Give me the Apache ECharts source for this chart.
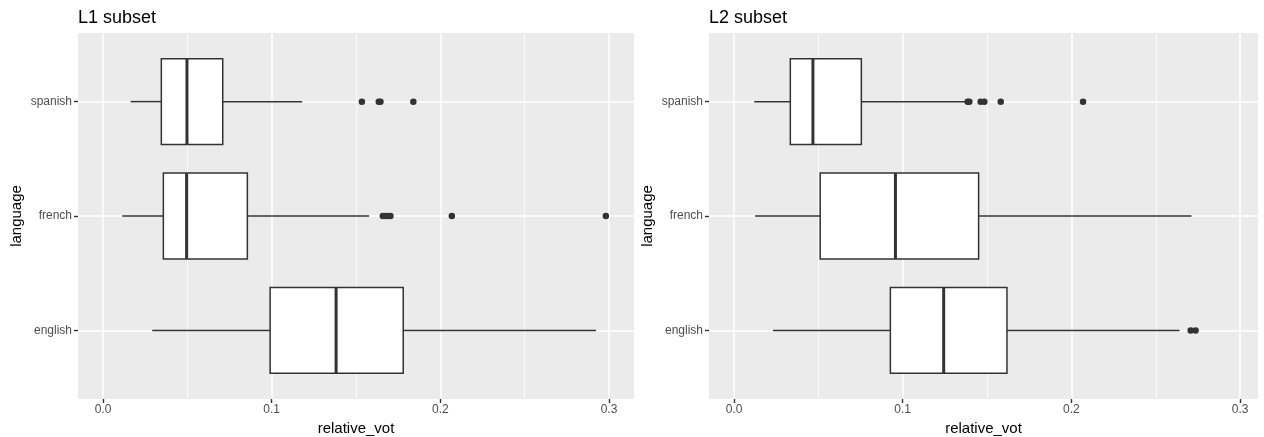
<!DOCTYPE html>
<html><head><meta charset="utf-8">
<script src="https://cdn.jsdelivr.net/npm/echarts@6/dist/echarts.min.js"></script>
<style>html,body{margin:0;padding:0;background:#fff}#c{width:1264px;height:437px}</style>
</head><body><div id="c"></div>
<script>
// ---- data ----
const languages = ['english', 'french', 'spanish'];
const xTicks = [0, 0.1, 0.2, 0.3];
const xMinorTicks = [0.05, 0.15, 0.25];
const yTicks = [1, 2, 3];
// five-number stats per language: [lower whisker, Q1, median, Q3, upper whisker]
const l1English = [0.0292, 0.0991, 0.1382, 0.1780, 0.2923];
const l1French  = [0.0114, 0.0358, 0.0496, 0.0856, 0.1578];
const l1Spanish = [0.0164, 0.0346, 0.0498, 0.0710, 0.1181];
const l2English = [0.0231, 0.0927, 0.1243, 0.1618, 0.2641];
const l2French  = [0.0125, 0.0511, 0.0957, 0.1450, 0.2712];
const l2Spanish = [0.0120, 0.0334, 0.0468, 0.0755, 0.1370];
// outliers: [value, language]
const l1Outliers = [
  [0.1659, 'french'], [0.1675, 'french'], [0.1690, 'french'], [0.1704, 'french'],
  [0.2068, 'french'], [0.2981, 'french'],
  [0.1535, 'spanish'], [0.1635, 'spanish'], [0.1645, 'spanish'], [0.1840, 'spanish']
];
const l2Outliers = [
  [0.2707, 'english'], [0.2736, 'english'],
  [0.1385, 'spanish'], [0.1395, 'spanish'], [0.1462, 'spanish'], [0.1484, 'spanish'],
  [0.1581, 'spanish'], [0.2069, 'spanish']
];

// ---- chart ----
const FONT = 'Liberation Sans, Arial, Helvetica, sans-serif';
const INK = '#333333';
const chart = echarts.init(document.getElementById('c'), null, {renderer: 'canvas'});

function boxRender(params, api) {
  const y = api.value(0);
  const lo = api.coord([api.value(1), y]);
  const q1 = api.coord([api.value(2), y]);
  const md = api.coord([api.value(3), y]);
  const q3 = api.coord([api.value(4), y]);
  const hi = api.coord([api.value(5), y]);
  const h = api.size([0, 0.75])[1];
  return {type: 'group', children: [
    {type: 'line', shape: {x1: lo[0], y1: lo[1], x2: q1[0], y2: q1[1]}, style: {stroke: INK, lineWidth: 1.5}},
    {type: 'line', shape: {x1: q3[0], y1: q3[1], x2: hi[0], y2: hi[1]}, style: {stroke: INK, lineWidth: 1.5}},
    {type: 'rect', shape: {x: q1[0], y: q1[1] - h / 2, width: q3[0] - q1[0], height: h}, style: {fill: '#ffffff', stroke: INK, lineWidth: 1.5}},
    {type: 'line', shape: {x1: md[0], y1: md[1] - h / 2, x2: md[0], y2: md[1] + h / 2}, style: {stroke: INK, lineWidth: 3}}
  ]};
}

function xMajor(gi, min, max) {
  return {
    gridIndex: gi, type: 'value', min: min, max: max, position: 'bottom',
    axisLine: {show: false, onZero: false},
    axisTick: {show: true, customValues: xTicks, length: 4, lineStyle: {color: INK, width: 1.4}},
    axisLabel: {customValues: xTicks, formatter: v => v.toFixed(1), color: '#4D4D4D', fontSize: 12, margin: 5, fontFamily: FONT},
    splitLine: {show: true, lineStyle: {color: '#ffffff', width: 1.5}},
    name: 'relative_vot', nameLocation: 'middle', nameGap: 21,
    nameTextStyle: {color: '#000', fontSize: 15, fontFamily: FONT}
  };
}
function xMinor(gi, min, max) {
  return {
    gridIndex: gi, type: 'value', min: min, max: max, position: 'bottom',
    axisLine: {show: false, onZero: false},
    axisTick: {show: false, customValues: xMinorTicks},
    axisLabel: {show: false, customValues: xMinorTicks},
    splitLine: {show: true, lineStyle: {color: '#ffffff', width: 0.75}}
  };
}
function yAx(gi) {
  return {
    gridIndex: gi, type: 'value', min: 0.4, max: 3.6, position: 'left',
    axisLine: {show: false, onZero: false},
    axisTick: {show: true, customValues: yTicks, length: 4, lineStyle: {color: INK, width: 1.4}},
    axisLabel: {customValues: yTicks, formatter: v => languages[Math.round(v) - 1], color: '#4D4D4D', fontSize: 12, margin: 6, fontFamily: FONT},
    splitLine: {show: true, lineStyle: {color: '#ffffff', width: 1.5}},
    name: 'language', nameLocation: 'middle', nameRotate: 90, nameGap: 54,
    nameTextStyle: {color: '#000', fontSize: 15, fontFamily: FONT}
  };
}
const langIndex = l => languages.indexOf(l) + 1;
const l1Stats = [l1English, l1French, l1Spanish];
const l2Stats = [l2English, l2French, l2Spanish];

chart.setOption({
  animation: false,
  textStyle: {fontFamily: FONT},
  title: [
    {text: 'L1 subset', left: 78, top: 9, padding: 0, textStyle: {fontSize: 18, fontWeight: 'normal', color: '#000', fontFamily: FONT}},
    {text: 'L2 subset', left: 709, top: 9, padding: 0, textStyle: {fontSize: 18, fontWeight: 'normal', color: '#000', fontFamily: FONT}}
  ],
  grid: [
    {left: 78, top: 33, width: 556, height: 366, show: true, backgroundColor: '#EBEBEB', borderWidth: 0, containLabel: false, outerBoundsMode: 'none'},
    {left: 709, top: 33, width: 549, height: 366, show: true, backgroundColor: '#EBEBEB', borderWidth: 0, containLabel: false, outerBoundsMode: 'none'}
  ],
  xAxis: [xMajor(0, -0.0148, 0.3148), xMinor(0, -0.0148, 0.3148), xMajor(1, -0.0148, 0.3106), xMinor(1, -0.0148, 0.3106)],
  yAxis: [yAx(0), yAx(1)],
  series: [
    {type: 'custom', xAxisIndex: 0, yAxisIndex: 0, renderItem: boxRender, encode: {x: [1, 2, 3, 4, 5], y: 0},
     data: l1Stats.map((s, i) => [i + 1].concat(s)), z: 3},
    {type: 'scatter', xAxisIndex: 0, yAxisIndex: 0, symbolSize: 6.5, itemStyle: {color: INK, opacity: 1},
     data: l1Outliers.map(o => [o[0], langIndex(o[1])]), z: 4},
    {type: 'custom', xAxisIndex: 2, yAxisIndex: 1, renderItem: boxRender, encode: {x: [1, 2, 3, 4, 5], y: 0},
     data: l2Stats.map((s, i) => [i + 1].concat(s)), z: 3},
    {type: 'scatter', xAxisIndex: 2, yAxisIndex: 1, symbolSize: 6.5, itemStyle: {color: INK, opacity: 1},
     data: l2Outliers.map(o => [o[0], langIndex(o[1])]), z: 4}
  ]
});
</script></body></html>
